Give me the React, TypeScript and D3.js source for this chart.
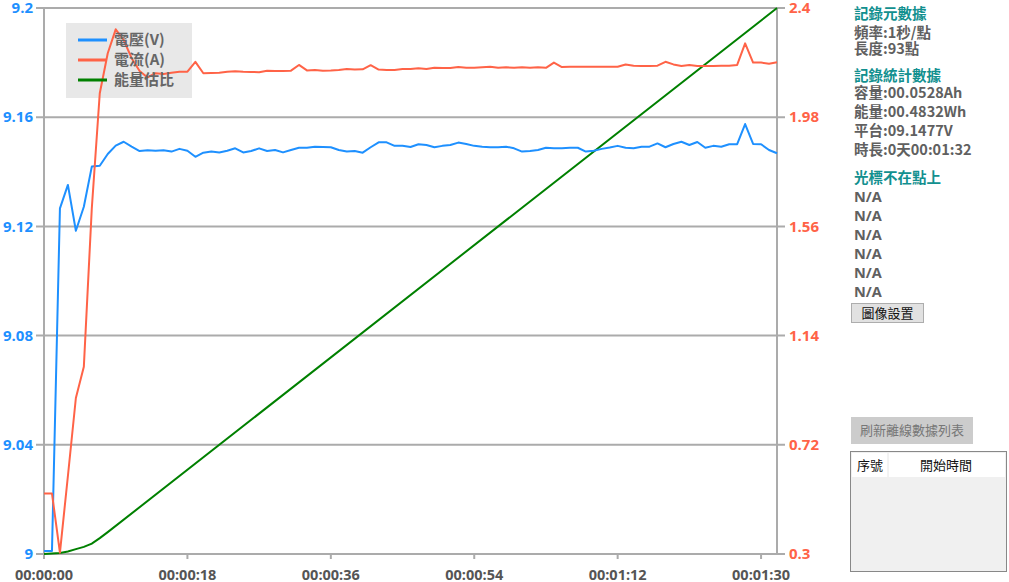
import React from "react";
import * as d3 from "d3";

const seconds: number[] = d3.range(0, 93);

const voltage: number[] = [
  9.0011, 9.0011, 9.1266, 9.1352, 9.1184, 9.1272, 9.1419, 9.1422, 9.1465, 9.1496,
  9.151, 9.1492, 9.1476, 9.1479, 9.1477, 9.1479, 9.1474, 9.1484, 9.1477, 9.1455,
  9.147, 9.1474, 9.1471, 9.1477, 9.1486, 9.1471, 9.1476, 9.1486, 9.1476, 9.148,
  9.1471, 9.148, 9.1488, 9.1488, 9.1492, 9.1491, 9.149, 9.148, 9.1474, 9.1476,
  9.147, 9.149, 9.1508, 9.1508, 9.1495, 9.1495, 9.1491, 9.1501, 9.1498, 9.149,
  9.1495, 9.1498, 9.1507, 9.1502, 9.1495, 9.1492, 9.149, 9.149, 9.1492, 9.1486,
  9.1474, 9.1476, 9.148, 9.1488, 9.1486, 9.1486, 9.1488, 9.1488, 9.1474, 9.1477,
  9.1484, 9.1489, 9.1495, 9.1488, 9.1486, 9.1492, 9.1492, 9.1504, 9.149, 9.1502,
  9.151, 9.1498, 9.1509, 9.1488, 9.1495, 9.1492, 9.1501, 9.1501, 9.1575, 9.1502,
  9.1501, 9.148, 9.1468,
];

const current: number[] = [
  0.533, 0.533, 0.305, 0.6, 0.9, 1.02, 1.63, 2.072, 2.226, 2.318,
  2.277, 2.207, 2.158, 2.133, 2.149, 2.146, 2.151, 2.155, 2.155, 2.193,
  2.149, 2.15, 2.151, 2.155, 2.157, 2.155, 2.154, 2.153, 2.159, 2.158,
  2.158, 2.159, 2.181, 2.16, 2.162, 2.159, 2.16, 2.162, 2.165, 2.163,
  2.164, 2.18, 2.163, 2.162, 2.162, 2.165, 2.165, 2.168, 2.165, 2.17,
  2.169, 2.169, 2.173, 2.17, 2.17, 2.172, 2.174, 2.17, 2.172, 2.17,
  2.172, 2.17, 2.172, 2.17, 2.19, 2.173, 2.174, 2.174, 2.174, 2.174,
  2.174, 2.174, 2.174, 2.183, 2.178, 2.177, 2.177, 2.178, 2.193, 2.183,
  2.177, 2.181, 2.177, 2.177, 2.177, 2.178, 2.178, 2.181, 2.264, 2.19,
  2.19, 2.186, 2.191,
];

const energyTimes: number[] = [0, 1, 2, 3, 4, 5, 6, 7, 8, 92];
const energyPct: number[] = [0, 0.1, 0.2, 0.45, 0.9, 1.3, 1.9, 2.9, 4.0, 100];

const leftTicks: number[] = [9, 9.04, 9.08, 9.12, 9.16, 9.2];
const rightTicks: number[] = [0.3, 0.72, 1.14, 1.56, 1.98, 2.4];
const xTicks: number[] = [0, 18, 36, 54, 72, 90];
const xTickLabels: string[] = ["00:00:00", "00:00:18", "00:00:36", "00:00:54", "00:01:12", "00:01:30"];

const legendNames: string[] = ["電壓(V)", "電流(A)", "能量估比"];
const seriesColors: string[] = ["#1e90ff", "#ff6347", "#008000"];

const metaTitle = "記錄元數據";
const metaLines: string[] = ["頻率:1秒/點", "長度:93點"];
const statsTitle = "記錄統計數據";
const statsLines: string[] = ["容量:00.0528Ah", "能量:00.4832Wh", "平台:09.1477V", "時長:0天00:01:32"];
const cursorTitle = "光標不在點上";
const cursorLines: string[] = ["N/A", "N/A", "N/A", "N/A", "N/A", "N/A"];

const FONT = "'Open Sans', 'Noto Sans CJK TC', sans-serif";
const CJK = "'Noto Sans CJK TC', 'Open Sans', sans-serif";

export default function App() {
  const left = 44, right = 777, top = 8, bottom = 554;
  const x = d3.scaleLinear().domain([0, 92]).range([left, right]);
  const yL = d3.scaleLinear().domain([9, 9.2]).range([bottom, top]);
  const yR = d3.scaleLinear().domain([0.3, 2.4]).range([bottom, top]);
  const yE = d3.scaleLinear().domain([0, 100]).range([bottom, top]);

  const vLine = d3.line<number>().x((_, i) => x(seconds[i])).y((d) => yL(d))(voltage) || "";
  const aLine = d3.line<number>().x((_, i) => x(seconds[i])).y((d) => yR(d))(current) || "";
  const eLine = d3.line<number>().x((_, i) => x(energyTimes[i])).y((d) => yE(d))(energyPct) || "";

  const grid = "#ababab";
  const teal = "#12908f";
  const txt = "#606060";

  return (
    <svg width={1009} height={582} style={{ position: "absolute", left: 0, top: 0, background: "#fff" }}>
      {leftTicks.map((t) => (
        <line key={"g" + t} x1={36} x2={right + 8} y1={yL(t)} y2={yL(t)} stroke={grid} strokeWidth={2} />
      ))}
      <line x1={left} x2={left} y1={top - 1} y2={bottom + 1} stroke={grid} strokeWidth={2} />
      <line x1={right} x2={right} y1={top - 1} y2={bottom + 1} stroke={grid} strokeWidth={2} />
      {xTicks.map((t) => (
        <line key={"xt" + t} x1={x(t)} x2={x(t)} y1={bottom} y2={bottom + 5} stroke={grid} strokeWidth={2} />
      ))}
      {leftTicks.map((t) => (
        <text key={"l" + t} x={33} y={yL(t)} dy="0.35em" textAnchor="end" fill="#1e90ff"
          fontFamily={FONT} fontWeight="bold" fontSize={15}>{d3.format("")(+t.toFixed(2))}</text>
      ))}
      {rightTicks.map((t) => (
        <text key={"r" + t} x={789} y={yR(t)} dy="0.35em" textAnchor="start" fill="#ff6347"
          fontFamily={FONT} fontWeight="bold" fontSize={15}>{d3.format("")(+t.toFixed(2))}</text>
      ))}
      {xTicks.map((t, i) => (
        <text key={"x" + t} x={x(t)} y={575} dy="0.35em" textAnchor="middle" fill="#555"
          fontFamily={FONT} fontWeight="bold" fontSize={14.5}>{xTickLabels[i]}</text>
      ))}
      <rect x={66} y={23} width={126} height={75} fill="#e8e8e8" />
      <path d={eLine} fill="none" stroke={seriesColors[2]} strokeWidth={2} />
      <path d={vLine} fill="none" stroke={seriesColors[0]} strokeWidth={2} strokeLinejoin="round" />
      <path d={aLine} fill="none" stroke={seriesColors[1]} strokeWidth={2} strokeLinejoin="round" />
      {legendNames.map((n, i) => (
        <g key={n}>
          <line x1={78} x2={107} y1={40 + i * 20} y2={40 + i * 20} stroke={seriesColors[i]} strokeWidth={3} />
          <text x={114} y={40 + i * 20} dy="0.35em" fill="#666" fontFamily={CJK} fontWeight="bold" fontSize={15}>{n}</text>
        </g>
      ))}
      <g fontFamily={CJK} fontSize={14.5}>
        <text x={854} y={14} dy="0.35em" fill={teal} fontWeight="bold">{metaTitle}</text>
        {metaLines.map((s, i) => (
          <text key={s} x={854} y={33 + i * 16} dy="0.35em" fill={txt} fontWeight="bold">{s}</text>
        ))}
        <text x={854} y={76} dy="0.35em" fill={teal} fontWeight="bold">{statsTitle}</text>
        {statsLines.map((s, i) => (
          <text key={s} x={854} y={93 + i * 19} dy="0.35em" fill={txt} fontWeight="bold">{s}</text>
        ))}
        <text x={854} y={178} dy="0.35em" fill={teal} fontWeight="bold">{cursorTitle}</text>
        {cursorLines.map((s, i) => (
          <text key={"na" + i} x={854} y={197 + i * 19} dy="0.35em" fill={txt} fontWeight="bold" fontFamily={FONT}>{s}</text>
        ))}
        <rect x={851.5} y={303.5} width={72} height={19} fill="#e1e1e1" stroke="#adadad" />
        <text x={887.5} y={313} dy="0.35em" textAnchor="middle" fill="#111" fontSize={13}>圖像設置</text>
        <rect x={851} y={417} width={122} height={27} fill="#cccccc" />
        <text x={912} y={430.5} dy="0.35em" textAnchor="middle" fill="#777" fontSize={13}>刷新離線數據列表</text>
        <rect x={850.5} y={451.5} width={156} height={120} fill="#f0f0f0" stroke="#888" />
        <rect x={852} y={453} width={153} height={24} fill="#fff" />
        <line x1={888} x2={888} y1={453} y2={477} stroke="#e6e6e6" />
        <text x={870} y={465} dy="0.35em" textAnchor="middle" fill="#111" fontSize={13}>序號</text>
        <text x={946} y={465} dy="0.35em" textAnchor="middle" fill="#111" fontSize={13}>開始時間</text>
      </g>
    </svg>
  );
}
